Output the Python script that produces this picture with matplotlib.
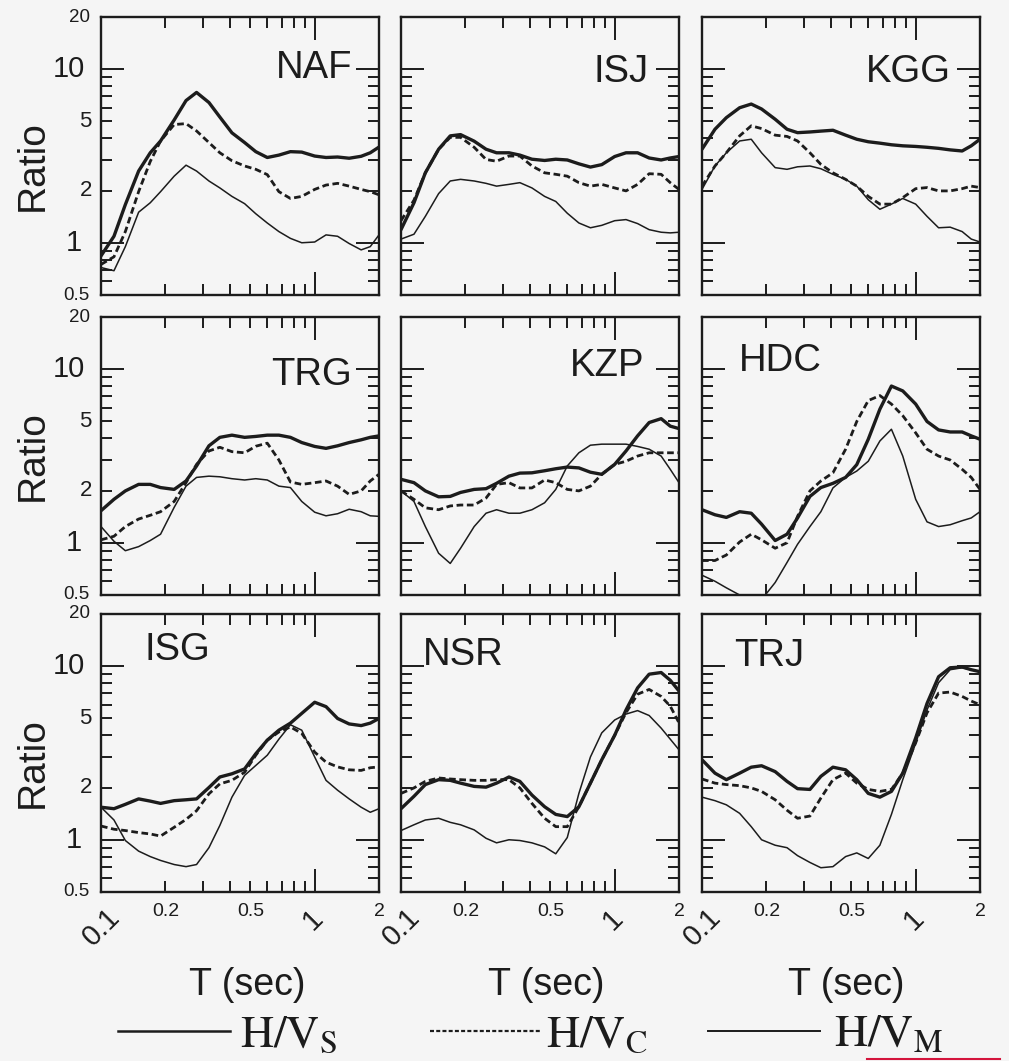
import matplotlib
matplotlib.use("Agg")
import matplotlib.pyplot as plt
from matplotlib.lines import Line2D
from matplotlib.ticker import FixedLocator, NullFormatter

plt.rcParams['font.family'] = ['Liberation Sans', 'DejaVu Sans']
plt.rcParams['mathtext.fontset'] = 'stix'

# ---------------- data ----------------
T = [0.1, 0.115, 0.13, 0.15, 0.17, 0.19, 0.22, 0.25, 0.28, 0.32, 0.36, 0.41, 0.47,
     0.53, 0.6, 0.68, 0.77, 0.87, 1.0, 1.13, 1.28, 1.45, 1.65, 1.82, 2.0]

stations = ['NAF', 'ISJ', 'KGG', 'TRG', 'KZP', 'HDC', 'ISG', 'NSR', 'TRJ']

naf_s = [0.84, 1.09, 1.66, 2.59, 3.3, 3.86, 5.1, 6.6, 7.35, 6.43, 5.3, 4.3, 3.78,
         3.35, 3.1, 3.2, 3.35, 3.33, 3.16, 3.1, 3.12, 3.07, 3.15, 3.3, 3.56]
naf_c = [0.75, 0.83, 1.16, 1.97, 2.94, 3.86, 4.8, 4.86, 4.41, 3.78, 3.3, 2.97, 2.77,
         2.65, 2.47, 1.97, 1.8, 1.85, 2.03, 2.15, 2.2, 2.12, 2.03, 1.97, 1.89]
naf_m = [0.72, 0.69, 0.95, 1.5, 1.7, 1.97, 2.42, 2.8, 2.59, 2.27, 2.07, 1.85, 1.68,
         1.47, 1.3, 1.16, 1.06, 1.0, 1.01, 1.11, 1.09, 0.99, 0.91, 0.95, 1.11]

isj_s = [1.19, 1.70, 2.53, 3.46, 4.13, 4.2, 3.85, 3.46, 3.3, 3.3, 3.2, 3.03, 2.98,
         3.03, 3.0, 2.85, 2.73, 2.82, 3.14, 3.3, 3.3, 3.08, 3.0, 3.08, 3.14]
isj_c = [1.34, 1.76, 2.53, 3.46, 4.05, 4.05, 3.55, 3.02, 2.95, 3.16, 3.16, 2.77, 2.53,
         2.48, 2.42, 2.22, 2.12, 2.17, 2.07, 1.99, 2.17, 2.5, 2.48, 2.22, 2.03]
isj_m = [1.05, 1.12, 1.42, 1.92, 2.27, 2.32, 2.27, 2.2, 2.12, 2.17, 2.22, 2.07, 1.85,
         1.73, 1.48, 1.3, 1.22, 1.26, 1.34, 1.36, 1.29, 1.19, 1.15, 1.14, 1.15]

kgg_s = [3.46, 4.51, 5.26, 6.0, 6.3, 5.9, 5.15, 4.51, 4.31, 4.35, 4.4, 4.45, 4.17,
         3.95, 3.82, 3.75, 3.67, 3.62, 3.59, 3.55, 3.5, 3.43, 3.38, 3.62, 3.95]
kgg_c = [2.12, 2.77, 3.3, 4.13, 4.72, 4.55, 4.17, 4.1, 3.86, 3.3, 2.83, 2.53, 2.32,
         2.12, 1.85, 1.67, 1.67, 1.82, 2.05, 2.08, 1.99, 1.99, 2.05, 2.12, 2.08]
kgg_m = [2.03, 2.77, 3.3, 3.86, 3.95, 3.3, 2.71, 2.65, 2.74, 2.77, 2.67, 2.48, 2.32,
         2.12, 1.77, 1.56, 1.67, 1.8, 1.67, 1.42, 1.22, 1.23, 1.16, 1.05, 1.01]

trg_s = [1.53, 1.78, 1.99, 2.17, 2.17, 2.08, 2.03, 2.27, 2.77, 3.62, 4.05, 4.17, 4.05,
         4.1, 4.17, 4.17, 4.05, 3.78, 3.59, 3.5, 3.62, 3.78, 3.92, 4.05, 4.13]
trg_c = [1.04, 1.09, 1.24, 1.37, 1.44, 1.51, 1.73, 2.22, 2.83, 3.38, 3.55, 3.35, 3.3,
         3.6, 3.75, 3.0, 2.24, 2.17, 2.22, 2.27, 2.12, 1.9, 1.99, 2.27, 2.48]
trg_m = [1.24, 1.02, 0.9, 0.95, 1.03, 1.12, 1.6, 2.12, 2.38, 2.42, 2.4, 2.34, 2.3,
         2.34, 2.3, 2.12, 2.08, 1.73, 1.5, 1.43, 1.47, 1.56, 1.51, 1.43, 1.42]

kzp_s = [2.32, 2.22, 1.99, 1.84, 1.85, 1.95, 2.03, 2.05, 2.2, 2.42, 2.52, 2.53, 2.6,
         2.67, 2.73, 2.7, 2.55, 2.48, 2.83, 3.38, 4.13, 4.93, 5.19, 4.7, 4.55]
kzp_c = [1.99, 1.78, 1.59, 1.55, 1.63, 1.65, 1.65, 1.81, 2.17, 2.22, 2.07, 2.07, 2.3,
         2.22, 2.03, 1.99, 2.12, 2.48, 2.83, 2.95, 3.16, 3.3, 3.3, 3.3, 3.3]
kzp_m = [1.99, 1.73, 1.24, 0.87, 0.76, 0.93, 1.24, 1.48, 1.55, 1.48, 1.48, 1.55, 1.70,
         2.03, 2.77, 3.3, 3.65, 3.7, 3.7, 3.7, 3.59, 3.46, 3.16, 2.65, 2.22]

hdc_s = [1.55, 1.45, 1.4, 1.51, 1.48, 1.28, 1.03, 1.12, 1.39, 1.85, 2.08, 2.2, 2.38,
         2.82, 3.95, 5.89, 8.0, 7.5, 6.3, 5.0, 4.47, 4.35, 4.35, 4.13, 3.95]
hdc_c = [0.79, 0.79, 0.85, 1.01, 1.12, 1.04, 0.93, 1.0, 1.42, 1.99, 2.27, 2.53, 3.46,
         5.0, 6.6, 7.05, 6.3, 5.4, 4.3, 3.46, 3.16, 3.0, 2.65, 2.38, 2.03]
hdc_m = [0.65, 0.6, 0.55, 0.5, 0.47, 0.47, 0.59, 0.77, 0.98, 1.24, 1.51, 2.07, 2.38,
         2.59, 2.95, 3.86, 4.51, 3.16, 1.78, 1.32, 1.24, 1.27, 1.34, 1.39, 1.51]

isg_s = [1.54, 1.51, 1.6, 1.72, 1.67, 1.62, 1.68, 1.70, 1.72, 2.0, 2.3, 2.4, 2.56,
         3.13, 3.75, 4.28, 4.7, 5.35, 6.2, 5.85, 5.0, 4.65, 4.55, 4.7, 5.0]
isg_c = [1.2, 1.15, 1.13, 1.1, 1.08, 1.05, 1.18, 1.31, 1.47, 1.84, 2.1, 2.2, 2.45,
         3.07, 3.75, 4.18, 4.47, 4.1, 3.2, 2.8, 2.63, 2.53, 2.51, 2.6, 2.63]
isg_m = [1.54, 1.3, 0.99, 0.86, 0.8, 0.76, 0.72, 0.7, 0.72, 0.9, 1.21, 1.76, 2.35,
         2.68, 3.07, 3.8, 4.6, 4.28, 3.0, 2.2, 1.93, 1.72, 1.54, 1.44, 1.51]

nsr_s = [1.51, 1.78, 2.08, 2.22, 2.2, 2.12, 2.03, 2.01, 2.12, 2.3, 2.17, 1.81, 1.55,
         1.4, 1.36, 1.55, 2.12, 2.89, 4.0, 5.6, 7.5, 9.0, 9.2, 8.3, 7.2]
nsr_c = [1.85, 1.99, 2.17, 2.27, 2.24, 2.22, 2.2, 2.2, 2.22, 2.22, 1.99, 1.62, 1.33,
         1.19, 1.19, 1.55, 2.12, 2.89, 4.0, 5.4, 6.9, 7.35, 6.7, 5.89, 4.72]
nsr_m = [1.13, 1.22, 1.30, 1.33, 1.26, 1.22, 1.14, 1.02, 0.96, 1.0, 0.99, 0.96, 0.91,
         0.83, 1.03, 1.85, 3.0, 4.13, 4.9, 5.3, 5.55, 5.2, 4.4, 3.8, 3.3]

trj_s = [2.89, 2.42, 2.22, 2.42, 2.62, 2.67, 2.47, 2.17, 1.97, 1.95, 2.32, 2.62, 2.53,
         2.22, 1.85, 1.76, 1.9, 2.42, 3.86, 6.1, 8.7, 9.8, 9.9, 9.55, 9.3]
trj_c = [2.24, 2.12, 2.08, 2.05, 1.99, 1.9, 1.70, 1.48, 1.33, 1.37, 1.74, 2.22, 2.42,
         2.12, 1.95, 1.9, 1.95, 2.42, 3.62, 5.39, 7.0, 7.1, 6.7, 6.3, 6.0]
trj_m = [1.76, 1.68, 1.59, 1.42, 1.19, 1.0, 0.93, 0.9, 0.81, 0.74, 0.69, 0.7, 0.8,
         0.84, 0.78, 0.93, 1.4, 2.22, 3.6, 5.6, 8.04, 9.55, 9.8, 9.55, 9.3]

series = {
    'NAF': (naf_s, naf_c, naf_m), 'ISJ': (isj_s, isj_c, isj_m), 'KGG': (kgg_s, kgg_c, kgg_m),
    'TRG': (trg_s, trg_c, trg_m), 'KZP': (kzp_s, kzp_c, kzp_m), 'HDC': (hdc_s, hdc_c, hdc_m),
    'ISG': (isg_s, isg_c, isg_m), 'NSR': (nsr_s, nsr_c, nsr_m), 'TRJ': (trj_s, trj_c, trj_m),
}

x_major = [0.1, 1]
x_minor = [0.2, 0.3, 0.4, 0.5, 0.6, 0.7, 0.8, 0.9, 2]
y_major = [1, 10]
y_minor = [0.5, 0.6, 0.7, 0.8, 0.9, 2, 3, 4, 5, 6, 7, 8, 9, 20]

# label placement (axes fraction, ha)
label_pos = {
    'NAF': (0.906, 0.781, 'right'), 'ISJ': (0.889, 0.766, 'right'), 'KGG': (0.896, 0.766, 'right'),
    'TRG': (0.903, 0.756, 'right'), 'KZP': (0.875, 0.789, 'right'), 'HDC': (0.133, 0.806, 'left'),
    'ISG': (0.158, 0.835, 'left'), 'NSR': (0.079, 0.817, 'left'), 'TRJ': (0.115, 0.813, 'left'),
}

# ---------------- figure ----------------
W, H = 1009, 1061
bg = '#f5f5f5'
ink = '#1c1c1c'
fig = plt.figure(figsize=(W / 100, H / 100), dpi=100)
fig.patch.set_facecolor(bg)

col_left = [101, 401, 702]
row_top = [17, 317, 614]
pw, ph = 278, 278

for i, st in enumerate(stations):
    r, c = divmod(i, 3)
    ax = fig.add_axes([col_left[c] / W, 1 - (row_top[r] + ph) / H, pw / W, ph / H])
    ax.set_facecolor(bg)
    s, cc, m = series[st]
    ax.plot(T, s, color=ink, lw=2.4, solid_joinstyle='round', solid_capstyle='round')
    ax.plot(T, cc, color=ink, lw=2.0, linestyle=(0, (2.4, 1.3)))
    ax.plot(T, m, color=ink, lw=1.1, solid_joinstyle='round')
    ax.set_xscale('log')
    ax.set_yscale('log')
    ax.set_xlim(0.1, 2)
    ax.set_ylim(0.5, 20)
    ax.xaxis.set_major_locator(FixedLocator(x_major))
    ax.xaxis.set_minor_locator(FixedLocator(x_minor))
    ax.yaxis.set_major_locator(FixedLocator(y_major))
    ax.yaxis.set_minor_locator(FixedLocator(y_minor))
    for a in (ax.xaxis, ax.yaxis):
        a.set_major_formatter(NullFormatter())
        a.set_minor_formatter(NullFormatter())
    ax.tick_params(which='both', direction='in', top=True, right=True, color=ink, width=1.4)
    ax.tick_params(which='major', length=16.5)
    ax.tick_params(which='minor', length=8)
    for sp in ax.spines.values():
        sp.set_linewidth(1.7)
        sp.set_color(ink)

    lx, ly, ha = label_pos[st]
    ax.text(lx, ly, st, transform=ax.transAxes, ha=ha, va='baseline', fontsize=27.5, color=ink)

    if c == 0:
        ytr = ax.get_yaxis_transform()
        for val, txt, fs, xo in [(20, '20', 13.5, -0.04), (10, '10', 21, -0.058), (5, '5', 16, -0.033),
                                 (2, '2', 16, -0.033), (1, '1', 21, -0.07), (0.5, '0.5', 13.5, -0.04)]:
            ax.text(xo, val, txt, transform=ytr, ha='right', va='center', fontsize=fs, color=ink)
    if r == 2:
        xtr = ax.get_xaxis_transform()
        for val, txt in [(0.2, '0.2'), (0.5, '0.5'), (2, '2')]:
            ax.text(val, -0.04, txt, transform=xtr, ha='center', va='top', fontsize=14, color=ink)
        ax.text(0.1, -0.128, '0.1', transform=xtr, ha='center', va='center', rotation=45,
                fontsize=21, color=ink)
        ax.text(0.985, -0.10, '1', transform=xtr, ha='center', va='center', rotation=45,
                fontsize=21, color=ink)

# y labels
for yc in [166, 456, 763]:
    fig.text(33 / W, 1 - yc / H, 'Ratio', rotation=90, ha='center', va='center', fontsize=28, color=ink)
# x labels
for xc in [247, 546, 846]:
    fig.text(xc / W, 1 - 995 / H, 'T (sec)', ha='center', va='baseline', fontsize=27, color=ink)

# legends (one entry each)
leg_items = [
    (Line2D([], [], color=ink, lw=1.8), r'$\mathrm{H/V_S}$', 118, 10),
    (Line2D([], [], color=ink, lw=1.6, linestyle=(0, (1.8, 1.0))), r'$\mathrm{H/V_C}$', 430, 4),
    (Line2D([], [], color=ink, lw=1.4), r'$\mathrm{H/V_M}$', 708, 14),
]
fs_leg = 33
for h, lab, x0, gap in leg_items:
    lg = fig.legend([h], [lab], loc='center left', bbox_to_anchor=(x0 / W, 1 - 1035 / H),
                    frameon=False, fontsize=fs_leg, handlelength=112 / (fs_leg * 100 / 72),
                    handletextpad=gap / (fs_leg * 100 / 72), borderpad=0, borderaxespad=0)
    for t in lg.get_texts():
        t.set_color(ink)

# small red artifact line at the bottom edge
fig.add_artist(Line2D([867 / W, 1000 / W], [1 - 1059 / H, 1 - 1059 / H], color='#d4143c', lw=1.5,
                      transform=fig.transFigure))

fig.savefig('out.png', dpi=100, facecolor=bg)
